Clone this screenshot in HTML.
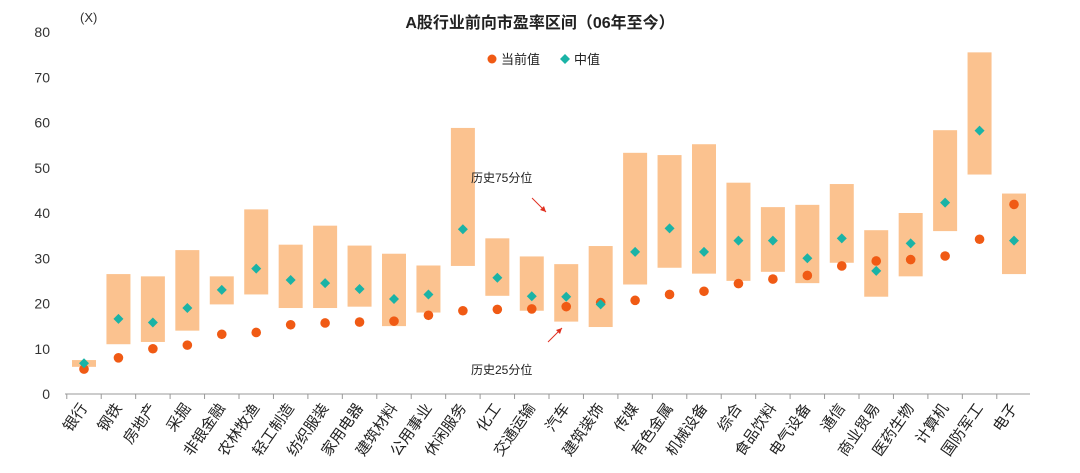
<!DOCTYPE html>
<html><head><meta charset="utf-8">
<style>
html,body{margin:0;padding:0;background:#fff;}
svg{display:block;font-family:"Liberation Sans","Noto Sans CJK SC",sans-serif;}
</style></head>
<body>
<svg id="chart" width="1080" height="473" viewBox="0 0 1080 473">
<text x="540" y="28" text-anchor="middle" font-size="16" font-weight="bold" fill="#222">A股行业前向市盈率区间（06年至今）</text>
<text x="80" y="22" font-size="13" fill="#333">(X)</text>
<g>
<circle cx="492" cy="59" r="4.5" fill="#f05a14"/>
<text x="501" y="64" font-size="13" fill="#222">当前值</text>
<path d="M565 54 L570 59 L565 64 L560 59Z" fill="#1ab3a6"/>
<text x="574" y="64" font-size="13" fill="#222">中值</text>
</g>
<g id="axes"></g>
<g id="marks"></g>
<g>
<text x="471" y="182" font-size="12" fill="#222">历史75分位</text>
<line x1="532" y1="198" x2="546" y2="212" stroke="#e03020" stroke-width="1"/>
<path d="M546 212 L540 210 L544 206Z" fill="#e03020"/>
<text x="471" y="374" font-size="12" fill="#222">历史25分位</text>
<line x1="548" y1="342" x2="562" y2="328" stroke="#e03020" stroke-width="1"/>
<path d="M562 328 L556 330 L560 334Z" fill="#e03020"/>
</g>
</svg>
<script>
const categories=["银行","钢铁","房地产","采掘","非银金融","农林牧渔","轻工制造","纺织服装","家用电器","建筑材料","公用事业","休闲服务","化工","交通运输","汽车","建筑装饰","传媒","有色金属","机械设备","综合","食品饮料","电气设备","通信","商业贸易","医药生物","计算机","国防军工","电子"];
const p25=[6.0,11,11.5,14,19.8,22,19,19,19.3,15,18,28.3,21.7,18.4,16,14.8,24.2,27.9,26.6,25,27,24.5,29,21.5,26,36,48.5,26.5];
const p75=[7.5,26.5,26,31.8,26,40.8,33,37.2,32.8,31,28.4,58.8,34.4,30.4,28.7,32.7,53.3,52.8,55.2,46.7,41.3,41.8,46.4,36.2,40,58.3,75.5,44.3];
const medians=[6.8,16.6,15.8,19,23,27.7,25.2,24.5,23.2,21,22,36.4,25.7,21.6,21.5,19.8,31.4,36.6,31.4,33.9,33.9,30,34.4,27.2,33.3,42.3,58.2,33.9];
const current=[5.5,8,10,10.8,13.2,13.6,15.3,15.7,15.9,16.1,17.4,18.4,18.7,18.8,19.3,20.2,20.7,22,22.7,24.4,25.4,26.2,28.3,29.4,29.7,30.5,34.2,41.9];
const yTicks=[0,10,20,30,40,50,60,70,80];
const NS="http://www.w3.org/2000/svg";
const y0=394,y1=32,yMax=80,xL=65,xR=1030;
const yS=v=>y0-(v/yMax)*(y0-y1);
const step=(1014-84)/27;
const xS=i=>84+i*step;
function mk(t,a,p){const e=document.createElementNS(NS,t);for(const k in a)e.setAttribute(k,a[k]);p.appendChild(e);return e;}
const ax=document.getElementById('axes'),mg=document.getElementById('marks');
yTicks.forEach(v=>{const t=mk('text',{x:50,y:yS(v)+5,'text-anchor':'end','font-size':14,fill:'#333'},ax);t.textContent=v;

});
const base=mk('line',{x1:xL,y1:y0,x2:xR,y2:y0,stroke:'#999','stroke-width':1},ax);


categories.forEach((c,i)=>{const x=xS(i);
const tk=mk('line',{x1:x-step/2,y1:y0,x2:x-step/2,y2:y0+5,stroke:'#999'},ax);


const t=mk('text',{x:x+4,y:y0+14,'text-anchor':'end','font-size':15,fill:'#222',transform:`rotate(-55 ${x+4} ${y0+14})`},ax);t.textContent=c;


const b=mk('rect',{x:x-12,y:yS(p75[i]),width:24,height:yS(p25[i])-yS(p75[i]),fill:'#fbc28f'},mg);


const cm=mk('circle',{cx:x,cy:yS(current[i]),r:4.8,fill:'#f05a14'},mg);


const my=yS(medians[i]);
const d=mk('path',{d:`M${x} ${my-5}L${x+5} ${my}L${x} ${my+5}L${x-5} ${my}Z`,fill:'#1ab3a6'},mg);


});
</script>
</body></html>
